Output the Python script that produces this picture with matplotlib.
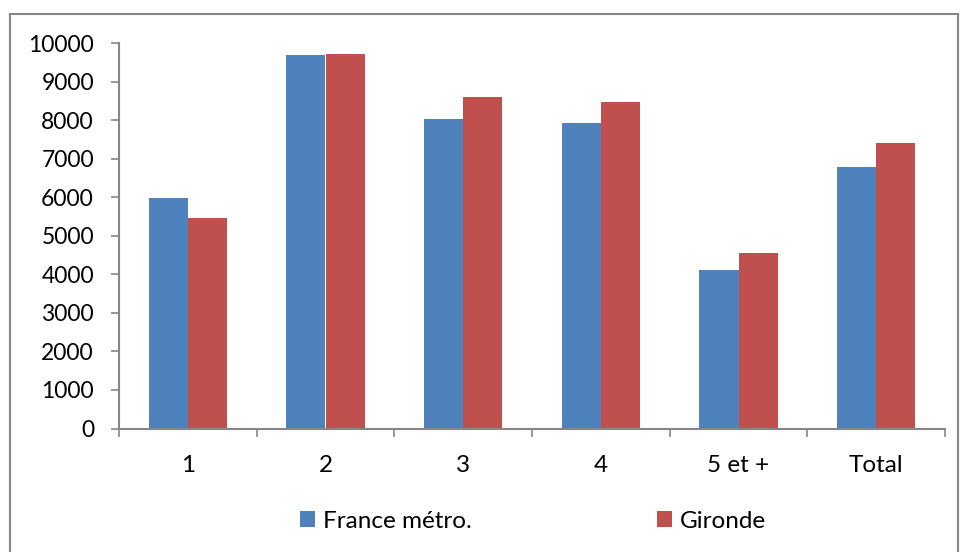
import matplotlib
matplotlib.use('Agg')
import matplotlib.pyplot as plt
import numpy as np
from matplotlib.patches import Rectangle

categories = ["1", "2", "3", "4", "5 et +", "Total"]
france = [5980, 9680, 8020, 7930, 4110, 6780]
gironde = [5470, 9710, 8600, 8470, 4560, 7400]
series_names = ["France métro.", "Gironde"]

plt.rcParams['font.family'] = ['Lato', 'DejaVu Sans']
plt.rcParams['font.size'] = 16.5

fig = plt.figure(figsize=(9.6, 5.52), dpi=100)
ax = fig.add_axes([119 / 960, 1 - 428.5 / 552, (945 - 119) / 960, (428.5 - 43) / 552])

x = np.arange(len(categories))
w = 1 / 3.5
b1 = ax.bar(x - w / 2, france, w, color='#4F81BD', label=series_names[0])
b2 = ax.bar(x + w / 2, gironde, w, color='#C0504D', label=series_names[1])

ax.set_xlim(-0.5, len(categories) - 0.5)
ax.set_ylim(0, 10000)
ax.set_yticks(range(0, 10001, 1000))

for s in ['top', 'right']:
    ax.spines[s].set_visible(False)
for s in ['left', 'bottom']:
    ax.spines[s].set_color('#868686')
    ax.spines[s].set_linewidth(1.5)

ax.tick_params(axis='y', direction='out', length=6, width=1.2, color='#868686', pad=12)
ax.set_xticks(x)
ax.set_xticklabels(categories, fontsize=17.5)
ax.set_xticks(np.arange(-0.5, len(categories)), minor=True)
ax.tick_params(axis='x', which='major', length=0, pad=19)
ax.tick_params(axis='x', which='minor', direction='out', length=6, width=1.2, color='#868686')

fig.legend(handles=[b1, b2], labels=series_names, loc='center',
           bbox_to_anchor=(533 / 960, 1 - 521 / 552), ncol=2, frameon=False,
           handlelength=0.62, handleheight=0.62, handletextpad=0.33,
           columnspacing=7.6, fontsize=17.5)

fig.patches.append(Rectangle((9.5 / 960, -0.05), (958 - 9.5) / 960, 1.05 - 14 / 552,
                             transform=fig.transFigure, fill=False,
                             edgecolor='#868686', linewidth=1.5))

fig.savefig('out.png', dpi=100)
